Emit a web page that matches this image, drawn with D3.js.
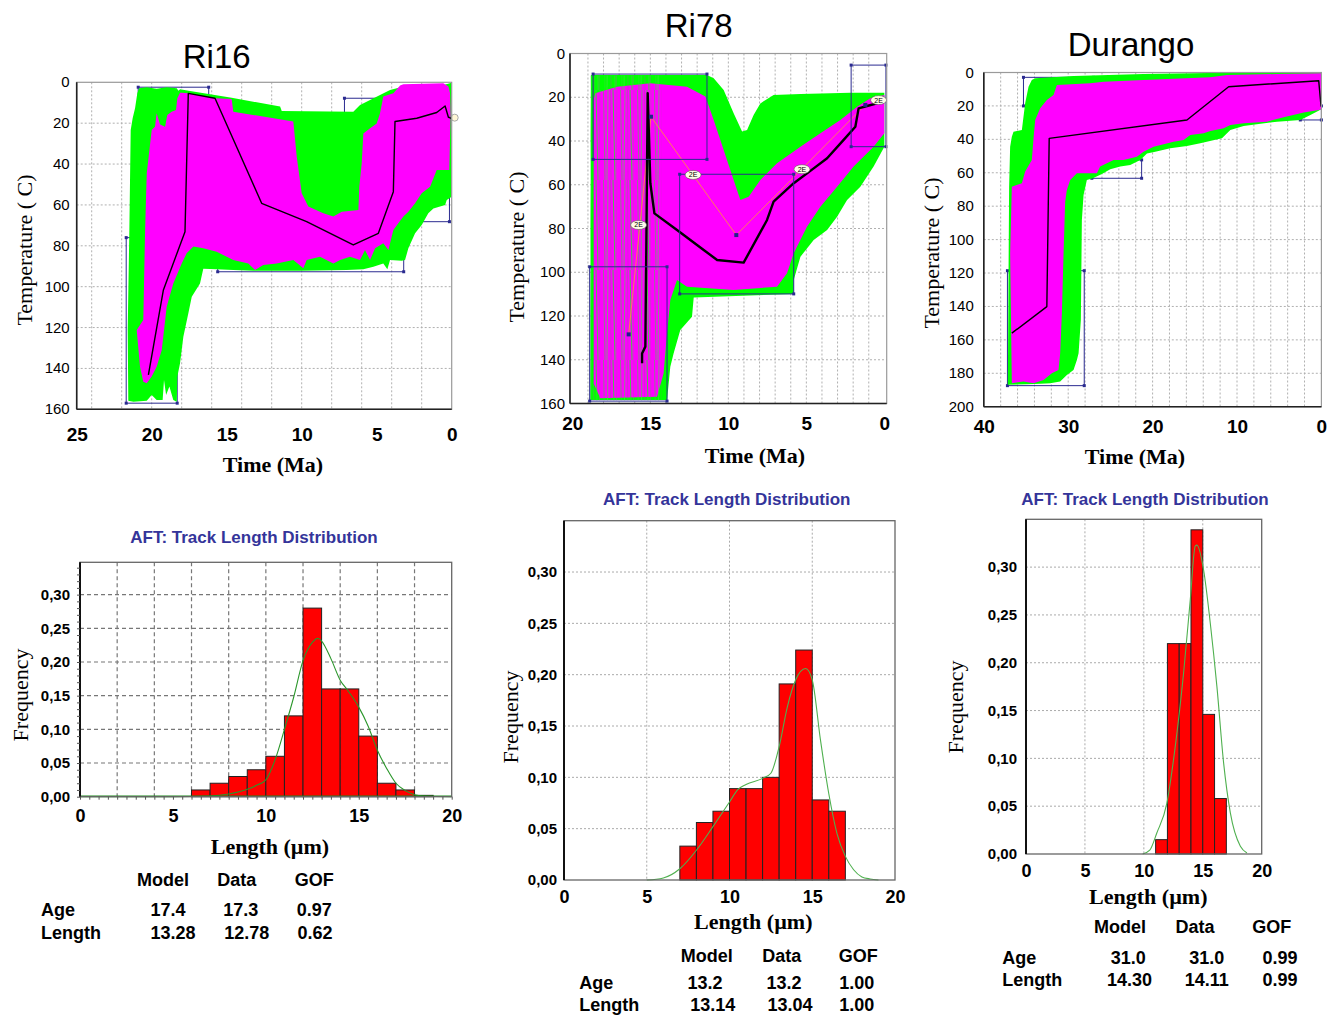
<!DOCTYPE html>
<html><head><meta charset="utf-8">
<script src="https://cdn.jsdelivr.net/npm/d3@7"></script>
<style>body{margin:0;background:#fff}svg{display:block}</style>
</head><body>
<svg id="c" width="1331" height="1015"></svg>
<script>
// ---------------- DATA (time Ma, temperature °C) ----------------
const ri16Green = [[20.84,2.9],[20.33,2.4],[19.67,3.1],[19.0,2.4],[18.33,2.9],[18.22,4.1],[18.11,3.4],[17.44,4.2],[14.67,7.5],[11.44,11.9],[11.33,14.0],[6.56,14.4],[6.11,11.1],[4.11,3.8],[3.22,2.1],[0.67,1.6],[0,0.2],[0,21.7],[0,56.0],[0.33,57.6],[0.44,60.0],[1.22,61.7],[1.56,64.1],[2.0,69.8],[2.44,73.9],[2.89,81.2],[3.11,87.0],[3.33,87.3],[4.11,87.0],[4.29,91.5],[4.56,88.6],[5.22,90.2],[5.89,91.5],[7.0,91.8],[10.11,92.2],[13.22,92.2],[14.56,91.8],[15.67,91.5],[16.56,91.2],[16.78,98.4],[17.33,104.9],[17.56,113.1],[17.89,124.5],[18.11,137.5],[18.29,144.0],[18.33,156.3],[18.56,155.5],[18.82,148.9],[19.04,153.0],[19.18,145.7],[19.27,155.5],[19.67,155.5],[20.0,153.0],[20.33,155.8],[21.22,156.3],[21.56,155.8],[21.6,121.2],[21.49,72.3],[21.4,23.3],[21.27,17.6],[21.11,12.7],[20.96,5.4]];
const ri16Magenta = [[18.0,5.1],[17.56,5.4],[15.78,7.8],[14.67,8.2],[14.56,14.4],[10.56,19.2],[10.33,36.4],[10.0,54.3],[9.56,60.8],[8.56,64.1],[7.89,65.7],[7.33,63.3],[6.22,62.5],[6.16,51.1],[6.0,39.6],[5.89,25.0],[5.44,22.5],[5.0,20.1],[4.78,15.2],[4.56,7.0],[3.89,5.4],[3.44,1.6],[3.22,1.0],[0.56,0.5],[0.22,2.1],[0.11,5.4],[0.07,15.2],[0.16,42.9],[1.0,42.9],[1.44,51.1],[2.0,54.3],[2.44,59.2],[2.89,63.3],[3.22,65.7],[3.56,69.0],[3.89,72.3],[4.22,82.1],[4.56,78.8],[5.11,81.2],[5.44,87.0],[5.78,82.1],[6.11,87.0],[6.78,85.3],[7.44,87.0],[7.89,88.6],[8.78,85.3],[9.67,87.0],[9.89,91.0],[10.56,87.0],[11.67,88.6],[12.56,89.4],[13.11,91.8],[13.56,88.6],[14.56,87.0],[15.67,82.9],[16.56,81.2],[17.22,80.4],[17.67,83.7],[18.0,88.6],[18.56,98.4],[19.0,109.8],[19.33,131.0],[19.67,139.2],[20.0,144.0],[20.33,147.3],[20.56,146.5],[20.78,139.2],[21.0,121.2],[20.56,116.3],[20.44,72.3],[20.33,44.5],[20.0,23.3],[19.78,21.7],[19.67,15.2],[19.44,20.6],[19.11,21.7],[18.96,16.0],[18.67,14.4],[18.38,13.5],[18.29,7.8],[18.11,5.1]];
const ri16Best = [[20.22,143.2],[19.22,101.6],[17.78,73.1],[17.56,5.4],[15.78,7.8],[12.67,59.2],[9.67,68.2],[6.56,79.6],[4.89,73.9],[3.89,53.5],[3.78,19.2],[2.33,17.6],[1.0,14.8],[0.44,11.6],[0.22,17.1],[0,17.6]];
const ri16Boxes = [[21.7,18.3,76,157],[20.9,16.2,2.4,20],[15.6,3.2,60,92.7],[7.15,0.15,7.8,68.2]];

const ri78Green = [[18.63,9.8],[11.37,9.8],[10.94,11.3],[10.30,16.7],[9.66,27.3],[9.12,35.7],[8.80,35.0],[8.38,28.1],[7.95,22.8],[7.10,19.0],[5.38,18.5],[2.18,17.9],[0,17.9],[0,42.6],[0.69,51.7],[1.54,60.9],[2.39,67.0],[3.03,74.6],[3.67,80.7],[4.53,85.3],[5.38,92.9],[5.81,103.5],[5.81,109.9],[12.22,111.5],[12.33,120.3],[13.08,126.4],[13.51,137.1],[13.72,143.2],[13.93,158.4],[18.85,158.4],[18.80,9.8]];
const ri78Magenta = [[18.53,18.2],[17.13,15.2],[15.0,13.6],[12.65,15.2],[11.47,19.7],[10.94,30.4],[10.30,44.1],[9.66,57.8],[9.23,67.0],[8.70,65.5],[7.95,57.8],[6.88,50.2],[5.38,42.6],[4.10,36.5],[2.82,30.4],[1.75,24.3],[0.90,20.5],[0,19.0],[0,36.5],[0.69,42.6],[1.97,51.7],[3.03,60.9],[4.10,70.0],[4.96,79.2],[5.81,91.3],[6.24,100.5],[6.88,106.6],[9.66,108.1],[12.65,106.6],[13.29,103.5],[13.72,112.7],[13.93,127.9],[14.15,146.2],[14.57,156.9],[18.21,157.6],[18.63,150.8],[18.63,21.3]];
const ri78StreakZone = [[18.85,10],[14.3,10],[14.3,158.5],[18.85,158.5]];
const ri78Best = [[15.53,141.6],[15.53,137.1],[15.32,134.0],[15.26,89.8],[15.17,18.2],[15.0,59.3],[14.74,73.1],[13.29,80.7],[11.58,89.8],[10.72,94.4],[9.02,95.6],[7.52,76.1],[7.10,67.7],[5.81,59.3],[4.53,52.5],[3.67,47.9],[2.61,39.5],[1.86,33.5],[1.65,25.1],[1.11,24.0],[0.47,22.8]];
const ri78Constraint = [[16.39,128.4],[14.96,28.9],[9.49,83.0],[1.22,23.5]];
const ri78Labels = [[15.75,78.4],[12.26,55.5],[5.28,52.9],[0.37,21.3]];
const ri78Boxes = [[18.67,11.37,9.4,48.4],[18.89,13.93,97.5,158.9],[13.12,5.81,55.2,109.9],[2.13,-0.1,5.3,42.6]];

const durGreen = [[37.15,186.9],[37.08,128.1],[37.0,68.3],[36.88,44.4],[36.68,38.4],[36.48,35.4],[35.49,34.4],[35.1,18.4],[34.7,8.5],[34.31,4.5],[33.91,3.5],[29.37,2.1],[21.07,0.9],[11.58,0.1],[0,0],[0,22.0],[1.3,25.4],[2.49,28.4],[5.26,29.4],[9.21,32.0],[10.79,34.4],[11.78,39.4],[14.35,42.4],[15.93,44.0],[17.91,45.4],[19.68,47.4],[20.67,48.4],[21.46,52.4],[22.65,55.3],[23.83,56.3],[25.02,57.9],[26.01,60.7],[27.08,63.3],[27.79,64.3],[28.18,73.3],[28.38,88.2],[28.5,148.1],[28.77,168.0],[28.97,172.0],[29.37,178.0],[30.16,181.0],[30.95,184.9],[32.13,185.9],[33.32,186.3],[34.9,186.5]];
const durMagenta = [[36.68,185.9],[36.88,108.2],[36.68,68.3],[35.49,66.3],[35.1,59.3],[34.31,52.3],[34.11,39.4],[33.91,28.4],[33.32,21.4],[32.53,16.5],[31.74,13.5],[31.34,7.5],[27.39,6.5],[25.81,5.5],[21.07,4.5],[13.16,2.9],[11.19,1.5],[5.26,0.9],[0,0.5],[0,22.0],[0.32,22.4],[2.09,24.0],[4.47,26.8],[6.44,29.4],[9.21,30.4],[10.79,31.4],[11.58,33.4],[13.16,35.0],[13.95,36.4],[15.53,37.4],[16.32,40.4],[17.51,41.4],[19.88,44.4],[21.07,47.4],[21.86,50.4],[23.44,52.3],[24.62,52.3],[25.42,54.3],[26.21,56.3],[26.6,60.3],[28.97,60.3],[29.76,64.3],[30.16,70.3],[30.36,77.3],[30.55,108.2],[30.75,144.1],[30.95,168.0],[31.15,178.0],[31.94,180.0],[32.92,184.0],[34.11,185.9],[35.3,184.9]];
const durBest = [[36.68,156.0],[32.53,140.1],[32.25,39.4],[15.93,28.4],[10.99,8.5],[0.32,4.9],[0.04,20.4]];
const durBoxes = [[37.2,28.1,118.6,187.4],[35.3,27.0,2.9,20],[27.2,21.3,52.3,63.3],[2.5,0,20,28.4]];

const ri16TimeTicks = [25,20,15,10,5,0];
const ri78TimeTicks = [20,15,10,5,0];
const durTimeTicks = [40,30,20,10,0];
const ri16TempTicks = [0,20,40,60,80,100,120,140,160];
const ri78TempTicks = [0,20,40,60,80,100,120,140,160];
const durTempTicks = [0,20,40,60,80,100,120,140,160,180,200];

// histograms: bin start (µm, width 1) and frequency
const ri16Bins = [6,7,8,9,10,11,12,13,14,15,16,17,18];
const ri16Freq = [0.01,0.02,0.03,0.04,0.06,0.12,0.28,0.16,0.16,0.09,0.02,0.01,0.002];
const ri16CurveL = [0,5,7,8,9,9.5,10,10.5,11,11.5,12,12.5,12.8,13,13.5,14,14.4,15,15.5,16,16.5,17,17.5,18,18.5,20];
const ri16CurveF = [0,0,0.001,0.004,0.011,0.017,0.025,0.055,0.10,0.148,0.202,0.229,0.235,0.231,0.205,0.173,0.158,0.133,0.105,0.069,0.042,0.02,0.009,0.003,0.001,0];

const ri78Bins = [7,8,9,10,11,12,13,14,15,16];
const ri78Freq = [0.033,0.056,0.067,0.089,0.089,0.10,0.191,0.224,0.078,0.067];
const ri78CurveL = [5,6,7,8,9,10,10.5,11,12,12.5,13,13.5,14,14.6,15,15.5,16,16.5,17,17.5,18,18.5,19];
const ri78CurveF = [0,0.002,0.011,0.029,0.052,0.076,0.088,0.093,0.099,0.104,0.13,0.169,0.195,0.206,0.195,0.136,0.084,0.045,0.023,0.01,0.003,0.001,0];

const durBins = [11,12,13,14,15,16];
const durFreq = [0.015,0.22,0.22,0.339,0.146,0.058];
const durCurveL = [9.9,10.5,11.1,11.95,12.66,13.37,13.94,14.36,14.5,15.07,15.64,16.2,16.77,17.34,18.19,18.75];
const durCurveF = [0,0.004,0.022,0.053,0.112,0.189,0.266,0.322,0.323,0.297,0.241,0.175,0.095,0.043,0.008,0.001];

const freqTicks = [0,0.05,0.10,0.15,0.20,0.25,0.30];
const lengthTicks = [0,5,10,15,20];

const tableCols = ['Model','Data','GOF'];
const tableRows = ['Age','Length'];
const ri16Table = [['17.4','17.3','0.97'],['13.28','12.78','0.62']];
const ri78Table = [['13.2','13.2','1.00'],['13.14','13.04','1.00']];
const durTable = [['31.0','31.0','0.99'],['14.30','14.11','0.99']];

// ---------------- DRAWING ----------------
const svg = d3.select('#c');
const defs = svg.append('defs');
const SANS = '"Liberation Sans", Arial, Helvetica, sans-serif';
const SERIF = '"Liberation Serif", "Times New Roman", Times, serif';
let clipId = 0;

// streak pattern imitating many overlapping green / grey paths
const pat = defs.append('pattern').attr('id', 'streak').attr('patternUnits', 'userSpaceOnUse').attr('width', 17).attr('height', 90);
pat.append('line').attr('x1', 1).attr('x2', 3).attr('y1', 0).attr('y2', 90).attr('stroke', '#22ee22').attr('stroke-width', 1.0);
pat.append('line').attr('x1', 5).attr('x2', 4).attr('y1', 0).attr('y2', 90).attr('stroke', '#9a6a9a').attr('stroke-width', 0.6);
pat.append('line').attr('x1', 8.5).attr('x2', 10).attr('y1', 0).attr('y2', 90).attr('stroke', '#33dd33').attr('stroke-width', 0.7);
pat.append('line').attr('x1', 13).attr('x2', 12).attr('y1', 0).attr('y2', 90).attr('stroke', '#44e044').attr('stroke-width', 0.8);
pat.append('line').attr('x1', 15.5).attr('x2', 16).attr('y1', 0).attr('y2', 90).attr('stroke', '#8a6a8a').attr('stroke-width', 0.5);

function txt(g, x, y, s, o) {
  o = o || {};
  const t = g.append('text').attr('x', x).attr('y', y).attr('dy', '0.35em')
    .attr('text-anchor', o.anchor || 'middle')
    .style('font-family', o.font || SANS).style('font-size', (o.size || 16) + 'px')
    .style('font-weight', o.weight || 'normal').attr('fill', o.fill || '#000').text(s);
  if (o.rotate) t.attr('transform', `rotate(-90,${x},${y})`);
  return t;
}

function styleAxisText(a, o) {
  a.select('.domain').remove();
  a.selectAll('text').style('font-family', o.font || SANS).style('font-size', o.size + 'px')
    .style('font-weight', o.weight || 'normal').attr('fill', '#000');
}

function drawTT(o) {
  const x = d3.scaleLinear().domain(o.xd).range(o.xr);
  const y = d3.scaleLinear().domain(o.yd).range(o.yr);
  const g = svg.append('g');
  const [x0, x1] = o.xr, [y0, y1] = o.yr;
  const cid = 'clip' + (clipId++);
  defs.append('clipPath').attr('id', cid).append('rect').attr('x', x0).attr('y', y0).attr('width', x1 - x0).attr('height', y1 - y0);
  g.append('g').selectAll('line').data(d3.range(o.gx[0], o.gx[1] + 0.001, o.gx[2])).join('line')
    .attr('x1', d => x(d)).attr('x2', d => x(d)).attr('y1', y0).attr('y2', y1)
    .attr('stroke', '#b0b0b0').attr('stroke-dasharray', '2,2');
  g.append('g').selectAll('line').data(d3.range(o.gy[0], o.gy[1] + 0.001, o.gy[2])).join('line')
    .attr('y1', d => y(d)).attr('y2', d => y(d)).attr('x1', x0).attr('x2', x1)
    .attr('stroke', '#b0b0b0').attr('stroke-dasharray', '2,2');
  const boxes = () => {
    const bg = g.append('g');
    o.boxes.forEach(b => {
      bg.append('rect').attr('x', x(b[0])).attr('y', y(b[2])).attr('width', x(b[1]) - x(b[0])).attr('height', y(b[3]) - y(b[2]))
        .attr('fill', 'none').attr('stroke', '#2b2b90').attr('stroke-width', 1);
      [[b[0], b[2]], [b[1], b[2]], [b[0], b[3]], [b[1], b[3]]].forEach(p =>
        bg.append('rect').attr('x', x(p[0]) - 1.5).attr('y', y(p[1]) - 1.5).attr('width', 3).attr('height', 3).attr('fill', '#2b2b90'));
    });
  };
  if (!o.boxesOnTop) boxes();
  const area = d3.line().x(d => x(d[0])).y(d => y(d[1]));
  const fg = g.append('g').attr('clip-path', `url(#${cid})`);
  fg.append('path').attr('d', area(o.green) + 'Z').attr('fill', '#00ff00');
  fg.append('path').attr('d', area(o.magenta) + 'Z').attr('fill', '#ff00ff');
  if (o.streaks) fg.append('path').attr('d', area(o.streaks) + 'Z').attr('fill', 'url(#streak)').attr('opacity', 0.8);
  if (o.constraint) {
    fg.append('path').attr('d', area(o.constraint)).attr('fill', 'none').attr('stroke', '#ff7b5a').attr('stroke-width', 1);
  }
  fg.append('path').attr('d', area(o.best)).attr('fill', 'none').attr('stroke', '#000').attr('stroke-width', o.bestW || 1.4).attr('stroke-linejoin', 'round');
  if (o.boxesOnTop) boxes();
  if (o.constraint) {
    o.constraint.forEach(p => g.append('rect').attr('x', x(p[0]) - 2).attr('y', y(p[1]) - 2).attr('width', 4).attr('height', 4).attr('fill', '#22228a'));
  }
  if (o.labels) {
    o.labels.forEach(p => {
      g.append('ellipse').attr('cx', x(p[0])).attr('cy', y(p[1])).attr('rx', 8).attr('ry', 4.5).attr('fill', '#fffbe8').attr('stroke', '#555').attr('stroke-width', 0.6);
      txt(g, x(p[0]), y(p[1]), '2E', { size: 7 });
    });
  }
  if (o.dot) g.append('circle').attr('cx', x(o.dot[0]) + 3).attr('cy', y(o.dot[1])).attr('r', 3.5).attr('fill', '#fff6d5').attr('stroke', '#aaa');
  g.append('rect').attr('x', x0).attr('y', y0).attr('width', x1 - x0).attr('height', y1 - y0).attr('fill', 'none').attr('stroke', '#9a9a9a').attr('stroke-width', 1.2);
  g.append('line').attr('x1', x0).attr('x2', x0).attr('y1', y0).attr('y2', y1).attr('stroke', '#222').attr('stroke-width', 1.6);
  g.append('line').attr('x1', x0).attr('x2', x1).attr('y1', y1).attr('y2', y1).attr('stroke', '#222').attr('stroke-width', 1.6);
  const ay = g.append('g').attr('transform', `translate(${x0},0)`)
    .call(d3.axisLeft(y).tickValues(o.yTicks).tickSize(0).tickPadding(o.yPad).tickFormat(d3.format('d')));
  styleAxisText(ay, { size: 15 });
  ay.selectAll('text').attr('dy', '0.3em');
  const ax = g.append('g').attr('transform', `translate(0,${y1})`)
    .call(d3.axisBottom(x).tickValues(o.xTicks).tickSize(0).tickFormat(d3.format('d')));
  styleAxisText(ax, { size: 19, weight: 'bold' });
  ax.selectAll('text').attr('y', o.xLabY - y1).attr('dy', '0.35em');
  txt(svg, o.title[1], o.title[2], o.title[0], { size: 33 });
  txt(svg, o.ylab[0], o.ylab[1], 'Temperature ( C)', { font: SERIF, size: 22, rotate: true });
  txt(svg, o.xlab[0], o.xlab[1], 'Time (Ma)', { font: SERIF, size: 22, weight: 'bold' });
}

function drawHist(o) {
  const x = d3.scaleLinear().domain([0, 20]).range(o.xr);
  const [x0, x1] = o.xr, [y0, y1] = o.yr; // y0 top, y1 bottom
  const y = d3.scaleLinear().domain([0, o.ymax]).range([y1, y0]);
  const g = svg.append('g');
  const dash = o.dashed ? '4,3' : '2,2';
  const gc = o.dashed ? '#777' : '#aaa';
  g.append('g').selectAll('line').data(d3.range(o.gxStep, 20, o.gxStep)).join('line')
    .attr('x1', d => x(d)).attr('x2', d => x(d)).attr('y1', y0).attr('y2', y1)
    .attr('stroke', gc).attr('stroke-dasharray', dash).attr('stroke-width', o.dashed ? 1.2 : 1);
  g.append('g').selectAll('line').data(freqTicks.slice(1)).join('line')
    .attr('y1', d => y(d)).attr('y2', d => y(d)).attr('x1', x0).attr('x2', x1)
    .attr('stroke', gc).attr('stroke-dasharray', dash).attr('stroke-width', o.dashed ? 1.2 : 1);
  const bars = o.bins.map((b, i) => ({ a: b, b: b + 1, f: o.freq[i] }));
  g.append('g').selectAll('rect').data(bars).join('rect')
    .attr('x', d => x(d.a)).attr('y', d => y(d.f)).attr('width', d => x(d.b) - x(d.a)).attr('height', d => y(0) - y(d.f))
    .attr('fill', '#ff0000').attr('stroke', '#222').attr('stroke-width', 1);
  const pts = o.curveL.map((l, i) => [l, o.curveF[i]]);
  g.append('path').attr('d', d3.line().x(d => x(d[0])).y(d => y(d[1])).curve(d3.curveMonotoneX)(pts))
    .attr('fill', 'none').attr('stroke', o.curveColor).attr('stroke-width', 1.1);
  if (o.baseline) g.append('line').attr('x1', x0).attr('x2', x1).attr('y1', y1 - 0.5).attr('y2', y1 - 0.5).attr('stroke', '#1a8a1a').attr('stroke-width', 1.5);
  g.append('rect').attr('x', x0).attr('y', y0).attr('width', x1 - x0).attr('height', y1 - y0).attr('fill', 'none').attr('stroke', '#666').attr('stroke-width', 1.3);
  g.append('line').attr('x1', x0).attr('x2', x0).attr('y1', y0).attr('y2', y1).attr('stroke', '#111').attr('stroke-width', 2);
  if (o.minor) {
    const mb = g.append('g').attr('transform', `translate(0,${y1})`).call(d3.axisBottom(x).tickValues(d3.range(0, 20.01, 0.5)).tickSize(3).tickFormat(''));
    mb.select('.domain').remove(); mb.selectAll('line').attr('stroke', '#555');
    const ml = g.append('g').attr('transform', `translate(${x0},0)`).call(d3.axisLeft(y).tickValues(d3.range(0, 0.345, 0.01)).tickSize(3).tickFormat(''));
    ml.select('.domain').remove(); ml.selectAll('line').attr('stroke', '#555');
  }
  const ay = g.append('g').attr('transform', `translate(${x0},0)`)
    .call(d3.axisLeft(y).tickValues(freqTicks).tickSize(0).tickPadding(o.yPad).tickFormat(d => d3.format('.2f')(d).replace('.', ',')));
  styleAxisText(ay, { size: 15, weight: 'bold' });
  const ax = g.append('g').attr('transform', `translate(0,${y1})`)
    .call(d3.axisBottom(x).tickValues(lengthTicks).tickSize(0).tickFormat(d3.format('d')));
  styleAxisText(ax, { size: 18, weight: 'bold' });
  ax.selectAll('text').attr('y', o.xLabY - y1).attr('dy', '0.35em');
  txt(svg, o.title[0], o.title[1], 'AFT: Track Length Distribution', { size: 17, weight: 'bold', fill: '#34349a' });
  txt(svg, o.ylab[0], o.ylab[1], 'Frequency', { font: SERIF, size: 22, rotate: true });
  txt(svg, o.xlab[0], o.xlab[1], 'Length (µm)', { font: SERIF, size: 22, weight: 'bold' });
  const tb = svg.append('g');
  tableCols.forEach((c, i) => txt(tb, o.tHead[i], o.tHeadY, c, { size: 18, weight: 'bold' }));
  tableRows.forEach((r, j) => {
    txt(tb, o.tLabX, o.tRowY[j], r, { size: 18, weight: 'bold', anchor: 'start' });
    o.table[j].forEach((v, i) => txt(tb, o.tCell[j][i], o.tRowY[j], v, { size: 18, weight: 'bold' }));
  });
}

drawTT({ xd: [25, 0], xr: [76.7, 451.7], yd: [0, 160], yr: [82.3, 409.3], gx: [2, 24, 2], gy: [20, 140, 20],
  green: ri16Green, magenta: ri16Magenta, best: ri16Best, boxes: ri16Boxes, dot: [0, 17.3],
  xTicks: ri16TimeTicks, yTicks: ri16TempTicks, yPad: 7, xLabY: 434,
  title: ['Ri16', 216.7, 56], ylab: [24, 250], xlab: [273, 464] });

drawTT({ xd: [20.15, -0.15], xr: [570, 886.7], yd: [0, 160], yr: [53.5, 403.5], gx: [1, 19, 1], gy: [20, 140, 20],
  green: ri78Green, magenta: ri78Magenta, streaks: ri78StreakZone, best: ri78Best, boxes: ri78Boxes, boxesOnTop: true,
  constraint: ri78Constraint, labels: ri78Labels, bestW: 2.4,
  xTicks: ri78TimeTicks, yTicks: ri78TempTicks, yPad: 5, xLabY: 423,
  title: ['Ri78', 698.7, 25], ylab: [516.7, 247], xlab: [755, 455] });

drawTT({ xd: [40, 0], xr: [983.8, 1321.4], yd: [0, 200], yr: [72.5, 406.7], gx: [2, 38, 2], gy: [20, 180, 20],
  green: durGreen, magenta: durMagenta, best: durBest, boxes: durBoxes,
  xTicks: durTimeTicks, yTicks: durTempTicks, yPad: 10, xLabY: 426,
  title: ['Durango', 1131, 44], ylab: [931, 253], xlab: [1135, 456] });

drawHist({ xr: [80, 451.7], ymax: 0.348, yr: [562.3, 796.7], gxStep: 2, dashed: true, minor: true, baseline: true,
  bins: ri16Bins, freq: ri16Freq, curveL: ri16CurveL, curveF: ri16CurveF, curveColor: '#2a962a',
  yPad: 10, xLabY: 816, title: [254, 537], ylab: [20, 695], xlab: [270, 846],
  table: ri16Table, tHead: [163, 236.7, 314.3], tHeadY: 880, tLabX: 41, tRowY: [910, 932.7],
  tCell: [[168, 240.7, 314.3], [173, 246.7, 315]] });

drawHist({ xr: [564, 895], ymax: 0.350, yr: [520.7, 880], gxStep: 5, dashed: false,
  bins: ri78Bins, freq: ri78Freq, curveL: ri78CurveL, curveF: ri78CurveF, curveColor: '#4fb04f',
  yPad: 7, xLabY: 897, title: [726.7, 499.3], ylab: [510, 717], xlab: [753.3, 921],
  table: ri78Table, tHead: [706.7, 781.7, 858.3], tHeadY: 956, tLabX: 579.3, tRowY: [982.7, 1005],
  tCell: [[705, 784, 856.7], [712.7, 790, 856.7]] });

drawHist({ xr: [1026, 1261.7], ymax: 0.350, yr: [519.3, 854], gxStep: 5, dashed: false,
  bins: durBins, freq: durFreq, curveL: durCurveL, curveF: durCurveF, curveColor: '#4fb04f',
  yPad: 9, xLabY: 871, title: [1145, 499.3], ylab: [955, 707], xlab: [1148.3, 896],
  table: durTable, tHead: [1120, 1195, 1271.7], tHeadY: 926.7, tLabX: 1002.3, tRowY: [957.3, 980],
  tCell: [[1128.3, 1206.7, 1280], [1129.5, 1206.7, 1280]] });
</script>
</body></html>
